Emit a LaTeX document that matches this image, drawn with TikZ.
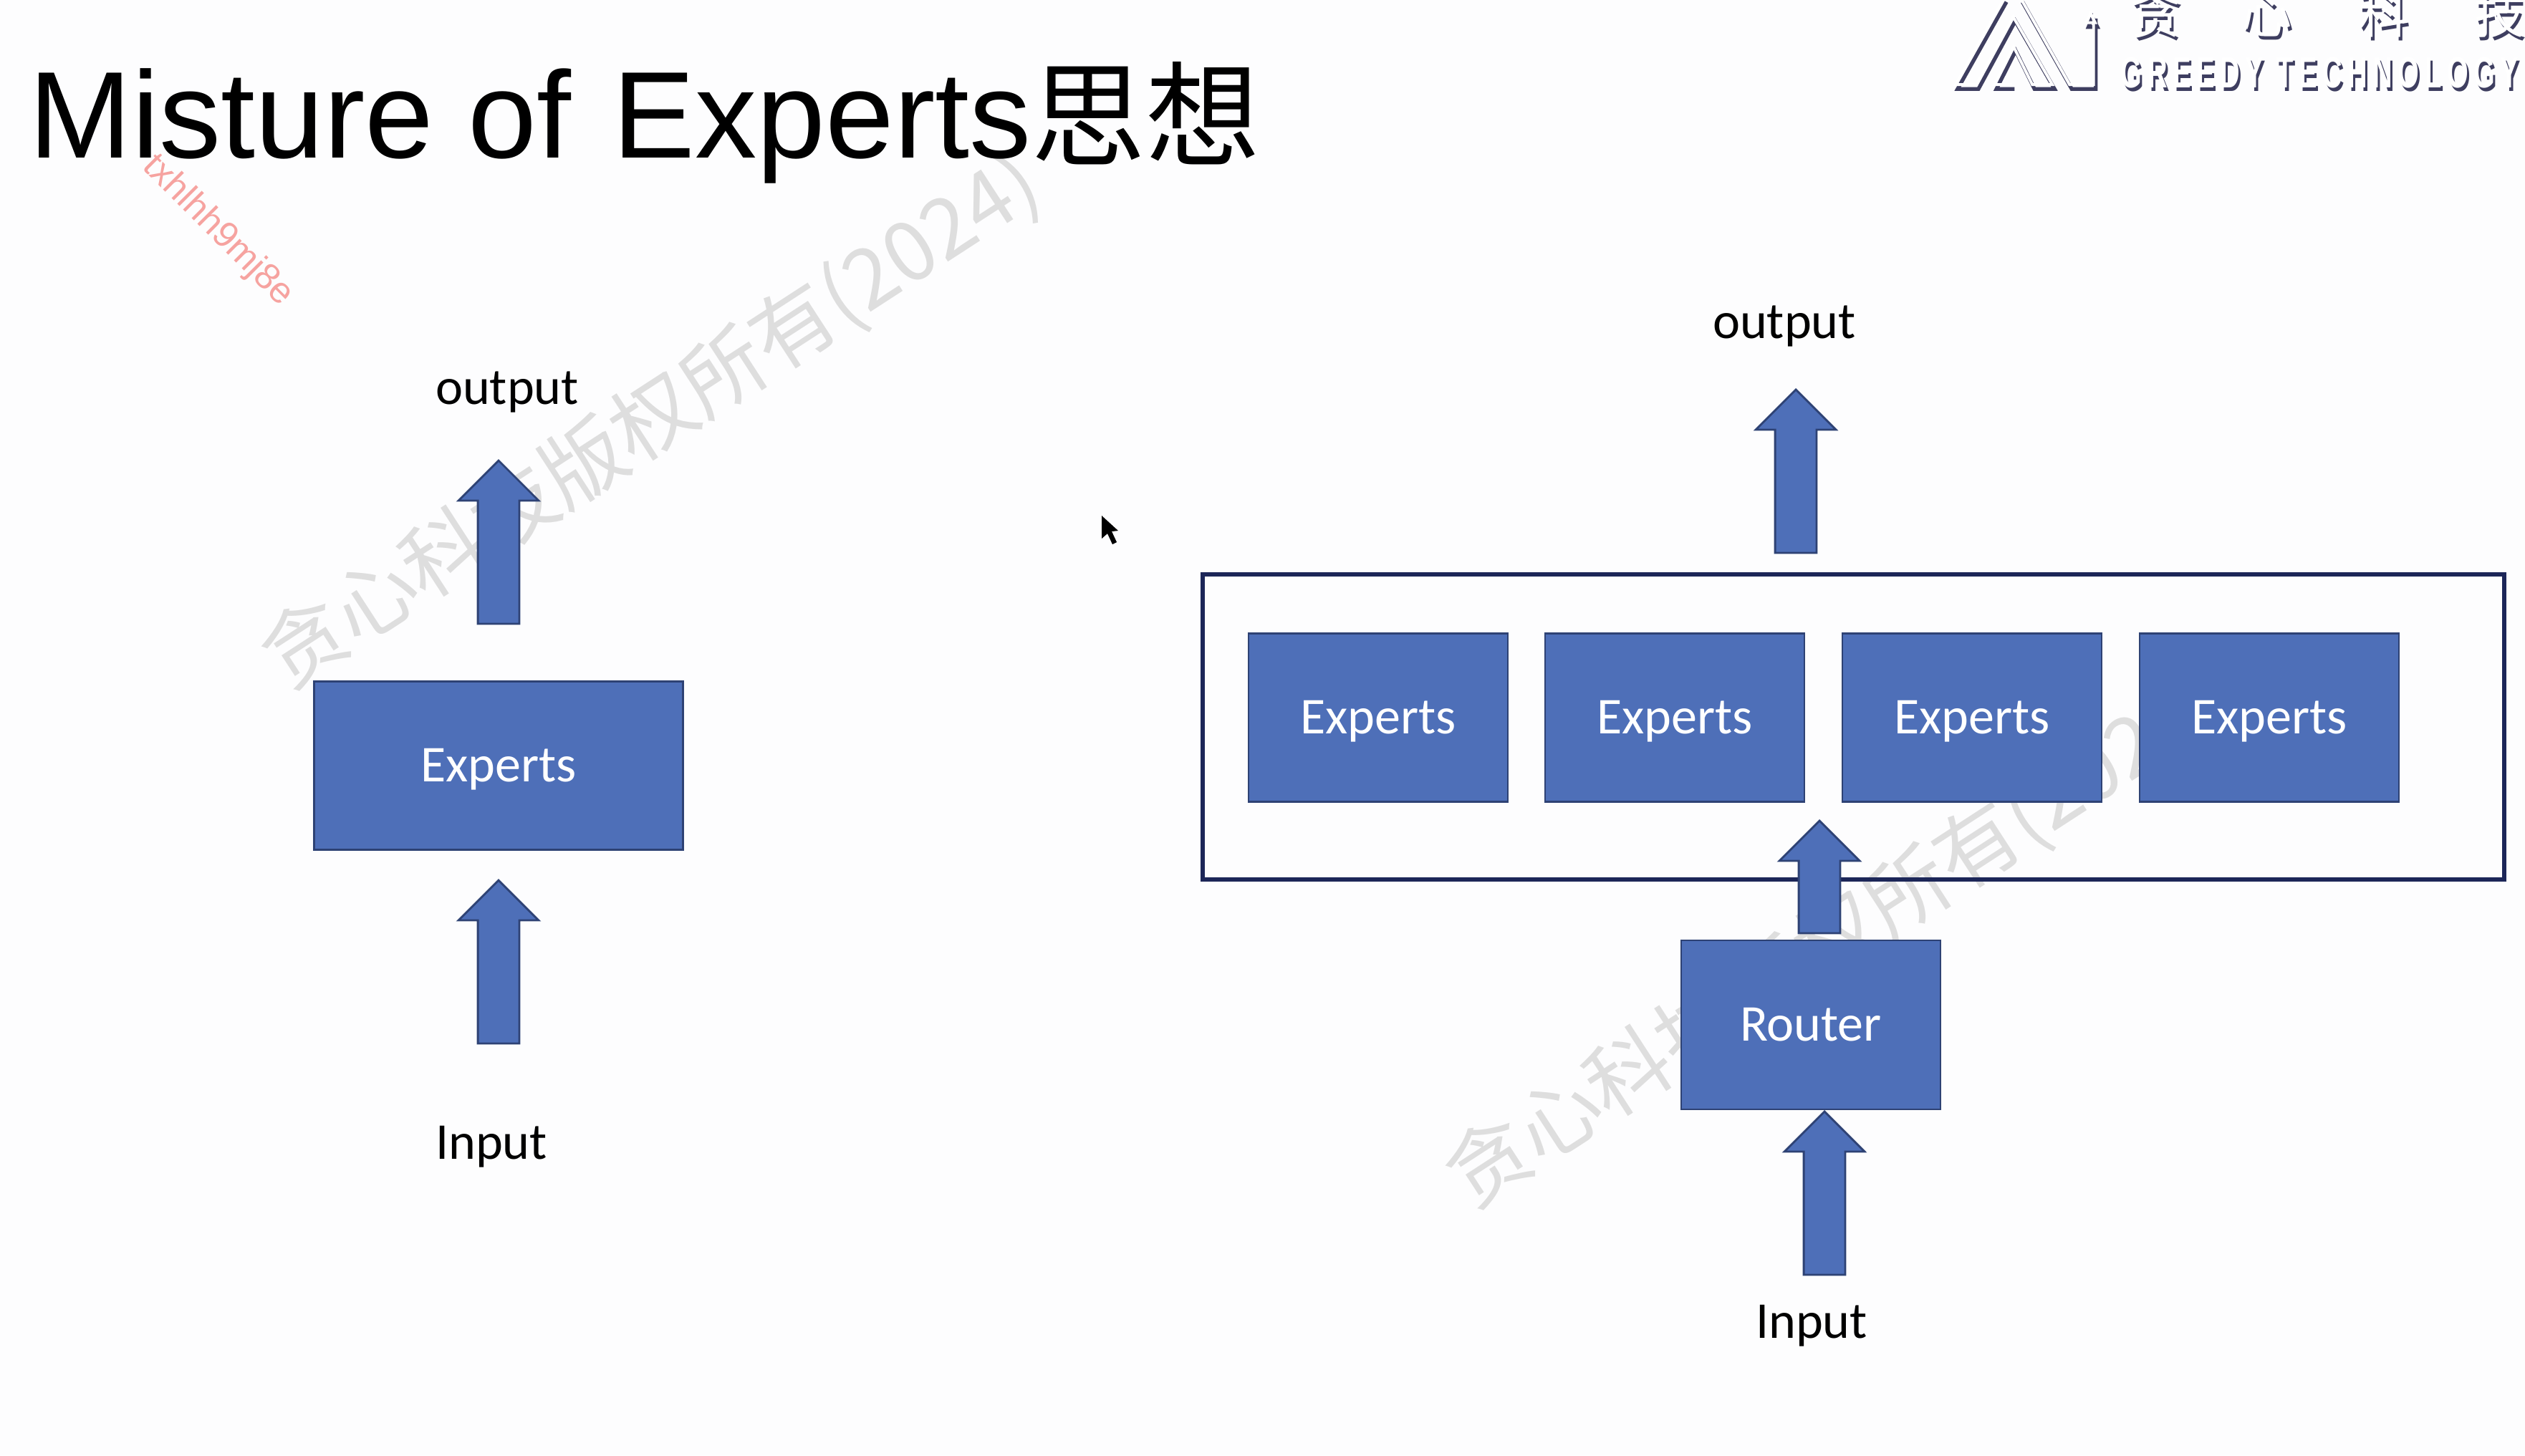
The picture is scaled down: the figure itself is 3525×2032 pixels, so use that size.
\documentclass[tikz,border=0pt]{standalone}
\usepackage{fontspec}
\usetikzlibrary{shapes.arrows}
\setmainfont{Carlito}
\newfontfamily\titlefont{Liberation Sans}
\newfontfamily\cjkfont{Noto Sans CJK SC}
\newfontfamily\logofont{Liberation Sans}[LetterSpace=20]
\newfontfamily\markfont{Liberation Sans}
\definecolor{pagebg}{HTML}{FDFDFE}
\definecolor{boxfill}{HTML}{4E6FB8}
\definecolor{boxline}{HTML}{2E4274}
\definecolor{frameline}{HTML}{1C2658}
\definecolor{wmgray}{HTML}{DEDEDE}
\definecolor{wmred}{HTML}{F6A3A0}
\definecolor{logoshadow}{HTML}{3E3E60}
\newcommand{\pxu}{*0.01cm}
\newcommand{\explabel}{\raisebox{-6.4pt}[0pt][0pt]{Experts}}
\tikzset{
  blockbox/.style={draw=boxline,line width=0.8pt,fill=boxfill,text=white,inner sep=0pt,font=\fontsize{20.5}{24}\selectfont},
  blockarrow/.style={single arrow,anchor=tip,draw=boxline,line width=0.8pt,fill=boxfill,inner xsep=0pt,inner ysep=27.5\pxu,minimum width=109\pxu,minimum height=228\pxu,single arrow head extend=27\pxu,rotate=90},
  lbl/.style={inner sep=0pt,text=black,font=\fontsize{20.5}{24}\selectfont},
  wmark/.style={inner sep=0pt,text=wmgray,rotate=33,font=\cjkfont\fontsize{33}{36}\selectfont},
  logoshade/.style={draw=logoshadow,line width=1.5pt,line join=miter},
  logolight/.style={draw=white,line width=1.1pt,line join=miter},
}
\begin{document}
\begin{tikzpicture}[x=0.01cm,y=-0.01cm]
\useasboundingbox (0,0) rectangle (3525,2032);
\fill[pagebg] (0,0) rectangle (3525,2032);
% watermarks
\node[wmark] (wm1) at (910,590) {贪心科技版权所有(2024)};
\node[wmark] (wm2) at (2563,1315) {贪心科技版权所有(2024)};
\node[inner sep=0pt,text=wmred,rotate=-45,font=\markfont\fontsize{14.5}{16}\selectfont] (wm3) at (304,322) {txhlhh9mj8e};
% title
\node[anchor=base west,inner sep=0pt,text=black,font=\titlefont\fontsize{49}{54}\selectfont] (title) at (40,220) {Misture of\hspace{3pt} Experts{\cjkfont\fontsize{45.5}{50}\selectfont 思想}};
% left diagram
\node[blockbox,minimum width=515\pxu,minimum height=235\pxu] (leftexp) at (696,1069) {\explabel};
\node[blockarrow] (leftup) at (696,641) {};
\node[blockarrow] (leftin) at (696,1227) {};
\node[lbl] (leftout) at (708,547) {output};
\node[lbl] (leftinput) at (686,1601) {Input};
% right diagram
\node[draw=frameline,line width=1.5pt,inner sep=0pt,minimum width=1817\pxu,minimum height=426\pxu] (frame) at (2587.5,1015) {};
\node[blockbox,minimum width=362\pxu,minimum height=235\pxu] (e1) at (1924,1002) {\explabel};
\node[blockbox,minimum width=362\pxu,minimum height=235\pxu] (e2) at (2338,1002) {\explabel};
\node[blockbox,minimum width=362\pxu,minimum height=235\pxu] (e3) at (2753,1002) {\explabel};
\node[blockbox,minimum width=362\pxu,minimum height=235\pxu] (e4) at (3168,1002) {\explabel};
\node[blockbox,minimum width=362\pxu,minimum height=236\pxu] (router) at (2528,1431) {Router};
\node[blockarrow,minimum height=157\pxu] (rmid) at (2540,1144) {};
\node[blockarrow] (rin) at (2547,1550) {};
\node[blockarrow] (rup) at (2507,542) {};
\node[lbl] (rout) at (2491,455) {output};
\node[lbl] (rinput) at (2529,1851) {Input};
% cursor
\fill[black] (1538,720) -- (1538,752) -- (1546,745) -- (1553,760) -- (1559,757) -- (1552,742) -- (1561,741) -- cycle;
% logo
\begin{scope}
  \clip (2650,0) rectangle (3525,160);
  \foreach \dx/\dy/\st in {3/6/logoshade,0/0/logolight}{
    \begin{scope}[shift={(2650+\dx,\dy)},x=0.00558cm,y=-0.00333cm]
      \draw[\st] (265,-10) -- (143,355) -- (195,355) -- (287,70) -- (385,355) -- (335,355) -- (288,195) -- (240,355) -- (285,355);
      \draw[\st] (305,-10) -- (428,355) -- (488,355) -- (488,60);
      \draw[\st] (470,95) -- (480,55) -- (492,95) -- cycle;
    \end{scope}
  }
  \foreach \dx/\dy/\tc in {3/5/logoshadow,0/0/white}{
    \node[inner sep=0pt,text=\tc,font=\cjkfont\fontsize{20}{22}\selectfont] (lg1\tc) at (3010+\dx,20+\dy) {贪};
    \node[inner sep=0pt,text=\tc,font=\cjkfont\fontsize{20}{22}\selectfont] (lg2\tc) at (3165+\dx,20+\dy) {心};
    \node[inner sep=0pt,text=\tc,font=\cjkfont\fontsize{20}{22}\selectfont] (lg3\tc) at (3328+\dx,20+\dy) {科};
    \node[inner sep=0pt,text=\tc,font=\cjkfont\fontsize{20}{22}\selectfont] (lg4\tc) at (3490+\dx,20+\dy) {技};
    \node[anchor=base west,inner sep=0pt,text=\tc,font=\logofont\bfseries\fontsize{17.5}{20}\selectfont] (lg5\tc) at (2960+\dx,122+\dy) {\scalebox{0.62}[1]{GREEDY TECHNOLOGY}};
  }
\end{scope}
\end{tikzpicture}
\end{document}
